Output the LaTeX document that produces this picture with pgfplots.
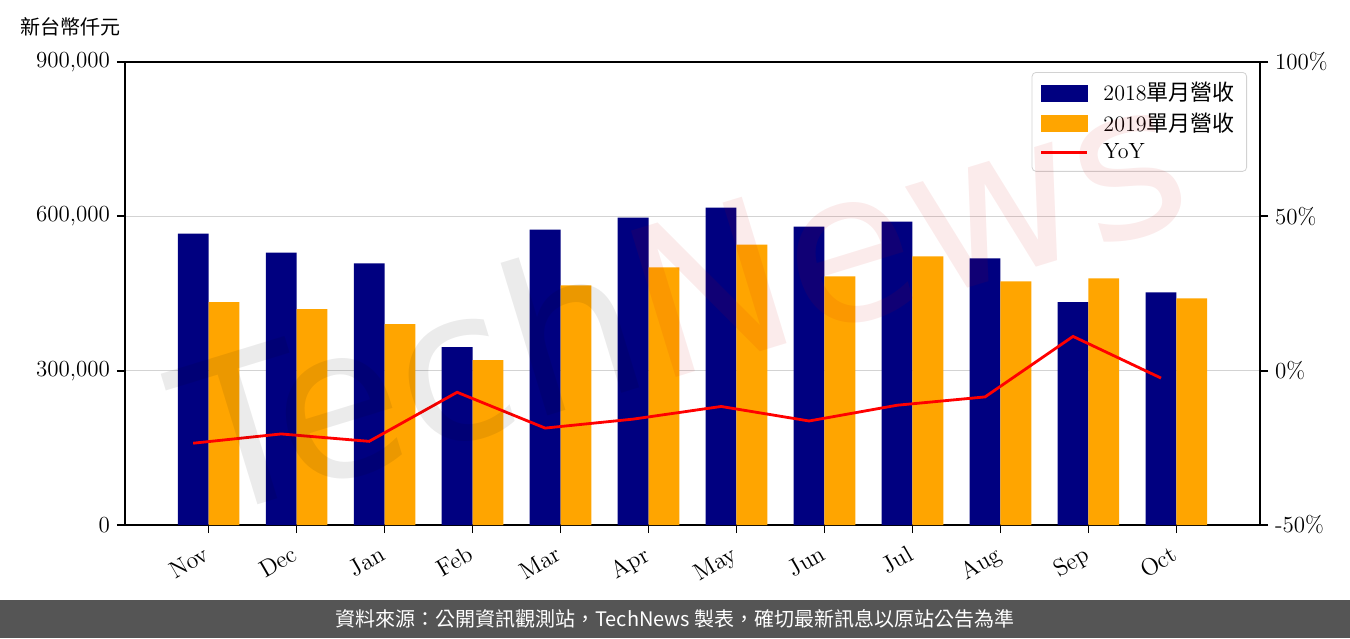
\documentclass[border=0pt]{standalone}
\usepackage{fontspec}
\usepackage{pgfplots}
\pgfplotsset{compat=1.18}
\newfontfamily\cjk{Noto Sans CJK TC}
\newfontfamily\wmfont{DejaVu Sans}
\definecolor{navybar}{HTML}{000080}
\definecolor{orangebar}{HTML}{FFA500}
\definecolor{footgray}{HTML}{555555}
\definecolor{gridgray}{HTML}{D3D3D3}

\begin{document}
\begin{tikzpicture}[x=1pt,y=1pt]
\useasboundingbox (0,0) rectangle (675,319);
\fill[footgray] (0,0) rectangle (675,19);
\node[white, font=\cjk\fontsize{10}{12}\selectfont] at (337.5,9.5) {資料來源：公開資訊觀測站，TechNews 製表，確切最新訊息以原站公告為準};
\node[anchor=west, inner sep=0pt, font=\cjk\fontsize{10}{12}\selectfont] at (10,305.5) {新台幣仟元};

\pgfplotsset{every axis/.append style={
  scale only axis, width=567.5pt, height=231.5pt,
  at={(62.5pt,56.5pt)}, anchor=south west,
  xmin=-0.95, xmax=11.95,
  axis line style={line width=0.9pt},
  tick style={line width=0.9pt, black},
  major tick length=4pt, tick align=outside,
  tick label style={font=\fontsize{11.5}{13}\selectfont}}}

% revenue bars, left axis
\begin{axis}[
  ymin=0, ymax=900000, scaled y ticks=false,
  ytick={0,300000,600000,900000},
  yticklabels={0,{300,000},{600,000},{900,000}},
  xtick={0,...,11},
  xticklabels={Nov,Dec,Jan,Feb,Mar,Apr,May,Jun,Jul,Aug,Sep,Oct},
  xticklabel style={rotate=30, anchor=north east, xshift=-2pt,
    font=\fontsize{12}{14}\selectfont},
  xtick pos=left, ytick pos=left,
  ymajorgrids, grid style={gridgray, line width=0.7pt},
]
\addplot[ybar, bar width=0.35, bar shift=-0.175, fill=navybar, draw=none] coordinates {
  (0,566500) (1,529700) (2,508500) (3,345900) (4,574300) (5,597500)
  (6,616900) (7,580100) (8,589700) (9,518100) (10,433000) (11,452300)};
\addplot[ybar, bar width=0.35, bar shift=0.175, fill=orangebar, draw=none] coordinates {
  (0,433000) (1,419400) (2,390400) (3,320700) (4,465900) (5,500700)
  (6,545200) (7,483300) (8,522000) (9,473600) (10,479400) (11,440700)};
\end{axis}

% YoY line, right axis
\begin{axis}[
  ymin=-50, ymax=100,
  ytick={-50,0,50,100},
  yticklabels={-50\%,0\%,50\%,100\%},
  axis y line*=right, axis x line=none,
  legend style={at={(1,1)}, anchor=north east, xshift=-6.5pt, yshift=-5pt,
    draw=gray!35, rounded corners=2pt, fill=white,
    font=\fontsize{11}{13}\selectfont, row sep=0.5pt,
    inner xsep=4pt, inner ysep=3pt},
  legend cell align=left,
]
\addlegendimage{legend image code/.code={\fill[navybar, sharp corners] (0pt,-4pt) rectangle (23pt,4pt); \path[draw=none, fill=none] (0pt,0pt) -- (29pt,0pt);}}
\addlegendentry{2018{\cjk 單月營收}}
\addlegendimage{legend image code/.code={\fill[orangebar, sharp corners] (0pt,-4pt) rectangle (23pt,4pt); \path[draw=none, fill=none] (0pt,0pt) -- (29pt,0pt);}}
\addlegendentry{2019{\cjk 單月營收}}
\addplot[red, line width=1.4pt, mark=none,
  legend image code/.code={\draw[red, line width=1.4pt, sharp corners] (0pt,0pt) -- (23pt,0pt); \path[draw=none, fill=none] (0pt,0pt) -- (29pt,0pt);}] coordinates {
  (-0.175,-23.5) (0.825,-20.5) (1.825,-22.9) (2.825,-7.0) (3.825,-18.6) (4.825,-15.7)
  (5.825,-11.6) (6.825,-16.3) (7.825,-11.2) (8.825,-8.5) (9.825,11.1) (10.825,-2.4)};
\addlegendentry{YoY}
\end{axis}

% watermark
\node[rotate=17, opacity=0.08, font=\wmfont\fontsize{105}{105}\selectfont] at (340,172)
  {{\color{black}Tech}{\color{red!80!black}News}};
\end{tikzpicture}
\end{document}
